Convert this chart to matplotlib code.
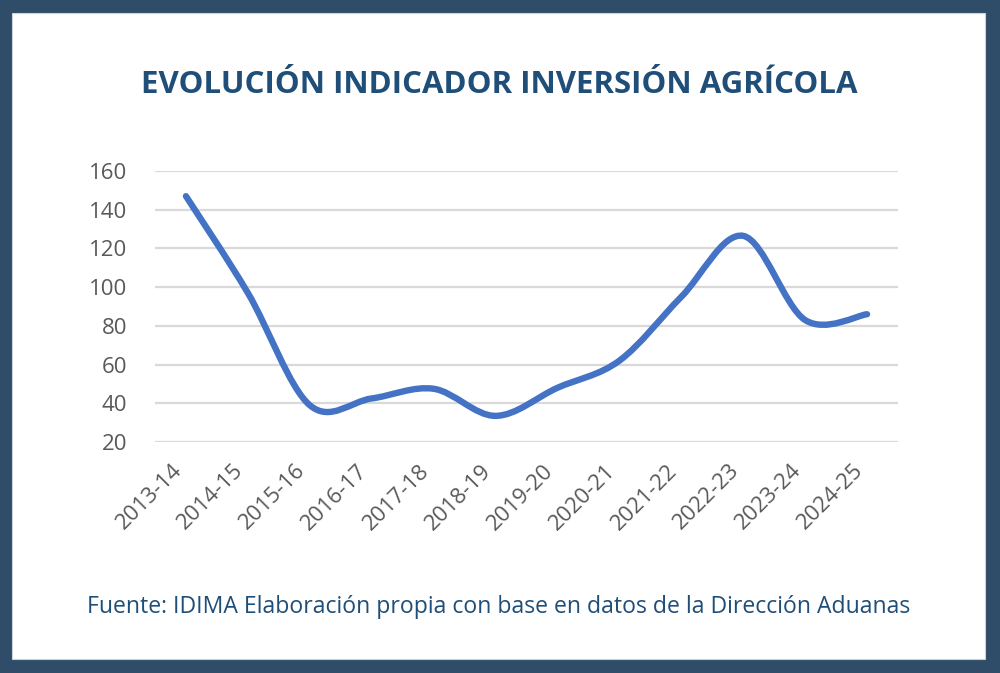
import numpy as np
import matplotlib.pyplot as plt
from matplotlib.path import Path
from matplotlib.patches import PathPatch, Rectangle

seasons = ['2013-14', '2014-15', '2015-16', '2016-17', '2017-18', '2018-19',
           '2019-20', '2020-21', '2021-22', '2022-23', '2023-24', '2024-25']
indicator = [147, 97, 39, 42.5, 47.5, 33.5, 48, 62, 95, 126.5, 83, 86]
y_ticks = [20, 40, 60, 80, 100, 120, 140, 160]

title = 'EVOLUCIÓN INDICADOR INVERSIÓN AGRÍCOLA'
source = 'Fuente: IDIMA Elaboración propia con base en datos de la Dirección Aduanas'

plt.rcParams['font.family'] = ['Open Sans', 'DejaVu Sans']

fig = plt.figure(figsize=(10, 6.73), dpi=100)
fig.patch.set_facecolor('#2f4d68')
# white card behind everything
fig.patches.append(Rectangle((12 / 1000, 1 - 659 / 673), 973 / 1000, 646 / 673,
                             transform=fig.transFigure, facecolor='white',
                             edgecolor='#c9d3dc', linewidth=0.8, zorder=-5))

ax = fig.add_axes([0.155, 1 - 442 / 673, 0.743, 271 / 673])
ax.set_facecolor('none')

# smoothed line like excel (catmull-rom as cubic bezier)
x = np.arange(len(indicator), dtype=float)
y = np.array(indicator, dtype=float)
verts = [(x[0], y[0])]
codes = [Path.MOVETO]
for i in range(len(x) - 1):
    p0 = (x[max(i - 1, 0)], y[max(i - 1, 0)])
    p1 = (x[i], y[i])
    p2 = (x[i + 1], y[i + 1])
    p3 = (x[min(i + 2, len(x) - 1)], y[min(i + 2, len(x) - 1)])
    c1 = (p1[0] + (p2[0] - p0[0]) / 6, p1[1] + (p2[1] - p0[1]) / 6)
    c2 = (p2[0] - (p3[0] - p1[0]) / 6, p2[1] - (p3[1] - p1[1]) / 6)
    verts += [c1, c2, p2]
    codes += [Path.CURVE4] * 3
ax.add_patch(PathPatch(Path(verts, codes), facecolor='none', edgecolor='#4472c4',
                       linewidth=4.6, capstyle='round', joinstyle='round', zorder=3))

ax.set_xlim(-0.5, len(seasons) - 0.5)
ax.set_ylim(20, 160)
ax.set_yticks(y_ticks)
ax.set_xticks(x)
ax.set_xticklabels(seasons, rotation=45, ha='right', rotation_mode='default')
ax.grid(axis='y', color='#d9d9d9', linewidth=1.6)
ax.set_axisbelow(True)
for s in ax.spines.values():
    s.set_visible(False)
ax.tick_params(length=0, labelsize=16, colors='#595959')
ax.tick_params(axis='y', pad=20)
ax.tick_params(axis='x', pad=13)

fig.text(0.499, 1 - 85 / 673, title, ha='center', va='center', fontsize=22.5,
         fontweight='bold', color='#1f4e79')
fig.text(0.4985, 1 - 607 / 673, source, ha='center', va='center', fontsize=16.6,
         color='#1f4e79')

fig.savefig('out.png', dpi=100, facecolor=fig.get_facecolor())
